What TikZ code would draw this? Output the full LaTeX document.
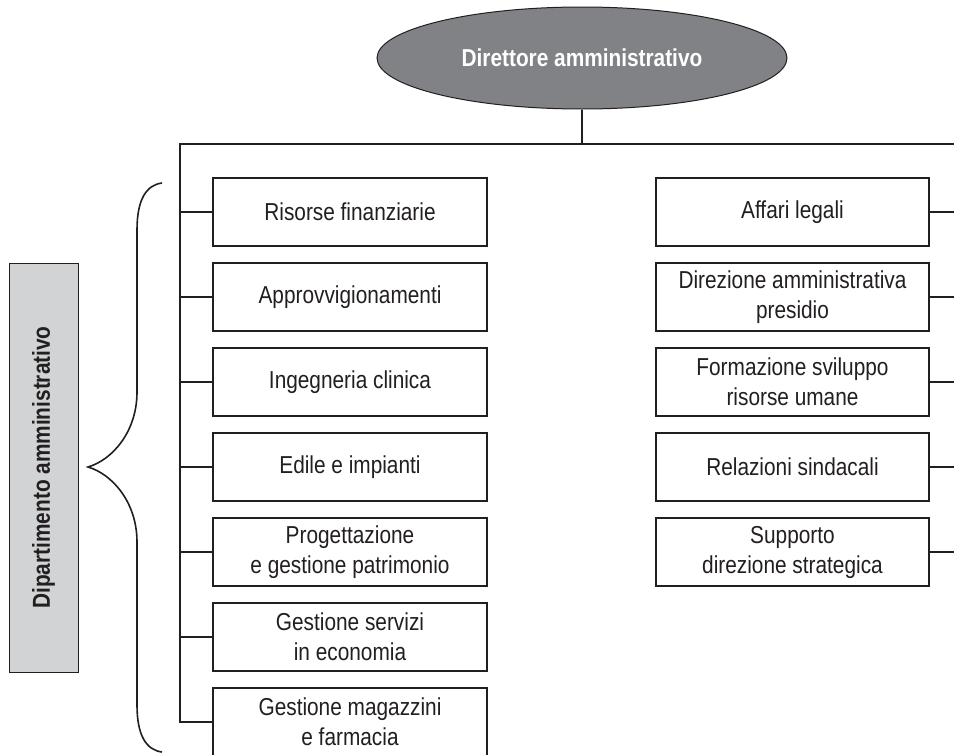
\documentclass[tikz,border=0pt]{standalone}
\usepackage{fontspec}
\setmainfont{Liberation Sans}[FakeStretch=0.85]
\usepackage{tikz}
\usetikzlibrary{shapes.geometric}
\definecolor{inkdark}{HTML}{231F20}
\definecolor{ovalgray}{HTML}{808285}
\definecolor{panelgray}{HTML}{D1D3D4}

\begin{document}
\begin{tikzpicture}[x=1pt, y=-1pt, line join=miter,
        every node/.append style={font=\fontsize{24.5}{30}\selectfont, text=inkdark, align=center},
        link/.style={draw=inkdark, line width=2.4pt}]
      \tikzstyle{office} = [draw=inkdark, line width=1.3pt, fill=white,
        minimum width=274, minimum height=68, inner sep=0pt]
      \tikzstyle{head} = [ellipse, draw=inkdark, line width=1pt, fill=ovalgray,
        minimum width=410, minimum height=102, inner sep=0pt, text=white, font=\fontsize{24.5}{30}\selectfont\bfseries]
      \useasboundingbox (0,0) rectangle (954,755);
      % director
      \node (dir) [head] at (582,58) {Direttore amministrativo};
      \coordinate (barL) at (180,144);
      \coordinate (barM) at (582,144);
      \coordinate (barR) at (958,144);
      % left column
      \node (fin) [office] at (350,212) {Risorse finanziarie};
      \node (appr) [office] at (350,297) {Approvvigionamenti};
      \node (ing) [office] at (350,382) {Ingegneria clinica};
      \node (edil) [office] at (350,467) {Edile e impianti};
      \node (prog) [office] at (350,552) {Progettazione\\e gestione patrimonio};
      \node (serv) [office] at (350,637) {Gestione servizi\\in economia};
      \node (mag) [office] at (350,722) {Gestione magazzini\\e farmacia};
      % right column
      \node (leg) [office, minimum width=273] at (792.5,212) {Affari legali};
      \node (pres) [office, minimum width=273] at (792.5,297) {Direzione amministrativa\\presidio};
      \node (form) [office, minimum width=273] at (792.5,382) {Formazione sviluppo\\risorse umane};
      \node (sind) [office, minimum width=273] at (792.5,467) {Relazioni sindacali};
      \node (strat) [office, minimum width=273] at (792.5,552) {Supporto\\direzione strategica};
      % department label
      \node (dept) [draw=inkdark, line width=1pt, fill=panelgray, rotate=90,
        minimum width=409, minimum height=69, inner sep=0pt,
        font=\fontsize{24.5}{30}\selectfont\bfseries] at (43.5,467.5) {Dipartimento amministrativo};

      % connectors
      \draw[link] (dir.south) -- (barM);
      \draw[link] (barR) -- (barL) |- (mag.west);
      \draw[link] (fin.west) -- (fin.west -| barL);
      \draw[link] (appr.west) -- (appr.west -| barL);
      \draw[link] (ing.west) -- (ing.west -| barL);
      \draw[link] (edil.west) -- (edil.west -| barL);
      \draw[link] (prog.west) -- (prog.west -| barL);
      \draw[link] (serv.west) -- (serv.west -| barL);
      \draw[link] (leg.east) -- (leg.east -| barR);
      \draw[link] (pres.east) -- (pres.east -| barR);
      \draw[link] (form.east) -- (form.east -| barR);
      \draw[link] (sind.east) -- (sind.east -| barR);
      \draw[link] (strat.east) -- (strat.east -| barR);

      % brace
      \draw[inkdark, line width=1.6pt] (162,183) .. controls (146,185) and (137,200) .. (137,230)
        -- (137,392) .. controls (137,432) and (112,460) .. (88,467)
        .. controls (112,474) and (137,502) .. (137,542)
        -- (137,705) .. controls (137,735) and (146,750) .. (162,752);
    \end{tikzpicture}
\end{document}
